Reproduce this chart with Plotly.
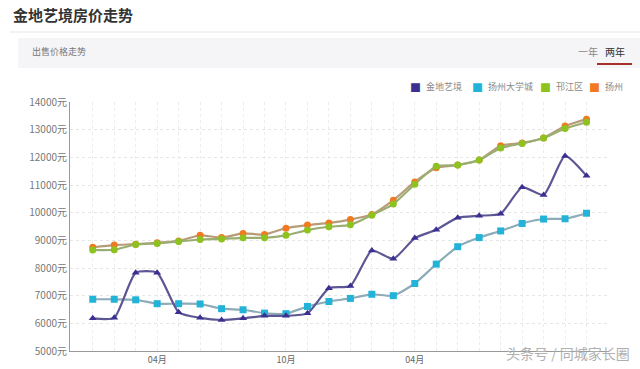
import plotly.graph_objects as go

months = list(range(24))
tick_idx = [3, 9, 15]
tick_text = ["04月", "10月", "04月"]

names = ["金地艺境", "扬州大学城", "邗江区", "扬州"]
jindi = [6180, 6200, 7830, 7830, 6400, 6200, 6120, 6180, 6270, 6270, 6360, 7270,
         7350, 8630, 8330, 9080, 9380, 9820, 9890, 9960, 10920, 10640, 12050, 11330]
daxuecheng = [6870, 6870, 6850, 6710, 6710, 6700, 6530, 6490, 6370, 6350, 6610, 6790,
              6900, 7050, 7000, 7440, 8140, 8770, 9100, 9340, 9610, 9770, 9780, 9980]
hanjiang = [8650, 8660, 8850, 8890, 8960, 9030, 9050, 9090, 9090, 9180, 9370, 9490,
            9560, 9910, 10310, 11030, 11680, 11720, 11900, 12340, 12500, 12700, 13040, 13270]
yangzhou = [8750, 8830, 8860, 8910, 8980, 9180, 9100, 9250, 9210, 9440, 9550, 9630,
            9750, 9930, 10450, 11110, 11620, 11720, 11900, 12420, 12520, 12700, 13130, 13380]
y_ticks = list(range(5000, 14001, 1000))
y_tick_text = [f"{v}元" for v in y_ticks]

marker_colors = ["#3b2f92", "#22b4d8", "#8dc21f", "#f07a22"]
line_colors = ["#5c5794", "#8eabb8", "#9aae72", "#b79c78"]
symbols = ["triangle-up", "square", "circle", "circle"]
sizes = [7, 7, 7, 7]
series = [jindi, daxuecheng, hanjiang, yangzhou]

fig = go.Figure()
# draw order: orange, green, cyan, purple
for k in [3, 2, 1, 0]:
    fig.add_trace(go.Scatter(
        x=months, y=series[k], mode="lines+markers", name=names[k], showlegend=False,
        line=dict(color=line_colors[k], width=2.2, shape="spline", smoothing=0.55),
        marker=dict(color=marker_colors[k], symbol=symbols[k], size=sizes[k]),
    ))

W0, W1 = 70, 608
T0, B0 = 102, 351
def px(x):
    return (x - W0) / (W1 - W0)
def py(y):
    return (B0 - y) / (B0 - T0)

shapes = [
    dict(type="line", xref="paper", yref="paper", x0=px(10), x1=px(640), y0=py(32), y1=py(32),
         line=dict(color="#e6e6e6", width=1)),
    dict(type="rect", xref="paper", yref="paper", x0=px(18), x1=px(640), y0=py(68), y1=py(38),
         fillcolor="#f5f4f7", line=dict(width=0), layer="below"),
    dict(type="line", xref="paper", yref="paper", x0=px(597), x1=px(632), y0=py(64), y1=py(64),
         line=dict(color="#a8302c", width=2)),
]

annotations = [
    dict(text="<b>金地艺境房价走势</b>", xref="paper", yref="paper", x=px(11), y=py(14),
         xanchor="left", yanchor="middle", showarrow=False,
         font=dict(size=15, color="#333333", family="Noto Sans CJK SC")),
    dict(text="出售价格走势", xref="paper", yref="paper", x=px(30), y=py(52),
         xanchor="left", yanchor="middle", showarrow=False,
         font=dict(size=9, color="#777777", family="Noto Sans CJK SC")),
    dict(text="一年", xref="paper", yref="paper", x=px(576), y=py(52),
         xanchor="left", yanchor="middle", showarrow=False,
         font=dict(size=10, color="#888888", family="Noto Sans CJK SC")),
    dict(text="两年", xref="paper", yref="paper", x=px(603), y=py(52),
         xanchor="left", yanchor="middle", showarrow=False,
         font=dict(size=10, color="#333333", family="Noto Sans CJK SC")),
    dict(text="头条号 / 同城家长圈", xref="paper", yref="paper", x=px(504), y=py(353),
         xanchor="left", yanchor="middle", showarrow=False,
         font=dict(size=14, color="#b0b0b0", family="Noto Sans CJK SC")),
]

# legend drawn as swatch + label annotations
legend_sw_x = [415, 477, 545, 594]
for k in range(4):
    annotations.append(dict(text="■", xref="paper", yref="paper", x=px(legend_sw_x[k]), y=py(87),
                            xanchor="center", yanchor="middle", showarrow=False,
                            font=dict(size=11, color=marker_colors[k])))
    annotations.append(dict(text=names[k], xref="paper", yref="paper", x=px(legend_sw_x[k] + 9),
                            y=py(86), xanchor="left", yanchor="middle", showarrow=False,
                            font=dict(size=9, color="#888888", family="Noto Sans CJK SC")))

fig.update_layout(
    width=640, height=369,
    margin=dict(l=W0, r=640 - W1, t=T0, b=369 - B0, autoexpand=False),
    paper_bgcolor="white", plot_bgcolor="white",
    font=dict(family="Noto Sans CJK SC", color="#666666", size=10),
    showlegend=False,
    shapes=shapes,
    annotations=annotations,
    xaxis=dict(range=[-1.06, 24.0], tickvals=tick_idx, ticktext=tick_text, automargin=False,
               showgrid=True, gridcolor="#ececec", griddash="dot", zeroline=False,
               showline=True, linecolor="#999999", linewidth=1,
               tickfont=dict(size=9, color="#666666"), ticks=""),
    yaxis=dict(range=[5000, 14000], tickvals=y_ticks, ticktext=y_tick_text, automargin=False,
               showgrid=True, gridcolor="#e6e6e6", griddash="dot", zeroline=False,
               showline=True, linecolor="#999999", linewidth=1,
               tickfont=dict(size=10, color="#777777"), ticks=""),
)
# vertical grid at every month
fig.update_xaxes(minor=dict(tickvals=months, showgrid=True, gridcolor="#ececec", griddash="dot"))

fig.write_html("out.html", config={"displayModeBar": False},
               post_script="document.body.style.margin='0';document.body.style.overflow='hidden';")
